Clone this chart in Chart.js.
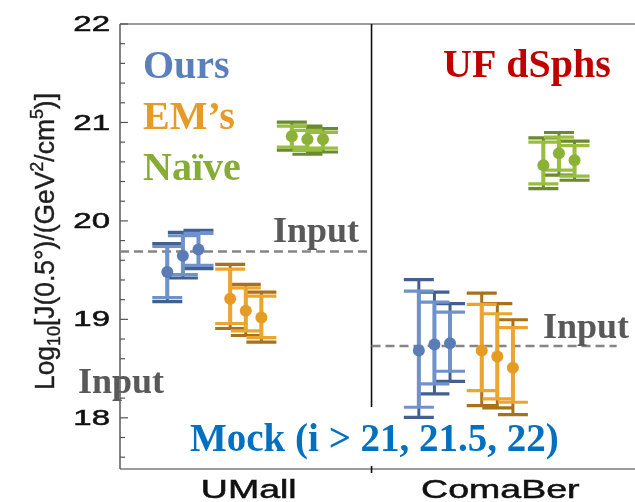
<!DOCTYPE html>
<html><head><meta charset="utf-8">
<script src="https://cdn.jsdelivr.net/npm/chart.js@4/dist/chart.umd.min.js"></script>
<style>html,body{margin:0;padding:0;background:#fff;}#wrap{width:635px;height:502px;}</style>
</head><body><div id="wrap"><canvas id="c" width="635" height="502"></canvas></div>
<script>
// ---------------- data ----------------
const categories = ['UMall', 'ComaBer'];
const mockCuts = ['i > 21', 'i > 21.5', 'i > 22'];
const inputLogJ = [19.69, 18.73];           // true (input) J-factor per galaxy
const yTickValues = [18, 19, 20, 21, 22];
const seriesNames = ['Ours', "EM\u2019s", 'Na\u00efve'];
// order of values: UMall (i>21, i>21.5, i>22), ComaBer (i>21, i>21.5, i>22)
const oursMid     = [19.48, 19.645, 19.71, 18.684, 18.745, 18.758];
const oursOuterHi = [19.77, 19.884, 19.905, 19.403, 19.277, 19.159];
const oursInnerHi = [19.74, 19.849, 19.874, 19.287, 19.175, 19.073];
const oursInnerLo = [19.22, 19.455, 19.548, 18.107, 18.345, 18.473];
const oursOuterLo = [19.18, 19.42, 19.515, 18.005, 18.243, 18.371];

const emMid     = [19.21, 19.087, 19.02, 18.684, 18.623, 18.508];
const emOuterHi = [19.558, 19.355, 19.277, 19.267, 19.159, 18.996];
const emInnerHi = [19.511, 19.32, 19.235, 19.152, 19.057, 18.915];
const emInnerLo = [18.958, 18.882, 18.814, 18.277, 18.192, 18.158];
const emOuterLo = [18.907, 18.836, 18.768, 18.124, 18.1, 18.033];

const naiveMid     = [20.86, 20.83, 20.83, 20.566, 20.688, 20.617];
const naiveOuterHi = [21.003, 20.962, 20.937, 20.843, 20.898, 20.81];
const naiveInnerHi = [20.962, 20.92, 20.90, 20.80, 20.85, 20.764];
const naiveInnerLo = [20.749, 20.718, 20.74, 20.377, 20.515, 20.454];
const naiveOuterLo = [20.718, 20.677, 20.70, 20.327, 20.464, 20.413];

// ---------------- styling / layout ----------------
const X_MAX = 1.975;
const mockOffsets = [-0.062, 0, 0.062];
const series = [
  {name: seriesNames[0], mid: oursMid, oHi: oursOuterHi, iHi: oursInnerHi, iLo: oursInnerLo, oLo: oursOuterLo,
   off: -0.25, light: '#6f92cb', dark: '#41608f', marker: '#5a7cb7', text: '#5b7fba'},
  {name: seriesNames[1], mid: emMid, oHi: emOuterHi, iHi: emInnerHi, iLo: emInnerLo, oLo: emOuterLo,
   off: 0, light: '#eca52e', dark: '#a8721b', marker: '#e69c22', text: '#e59b25'},
  {name: seriesNames[2], mid: naiveMid, oHi: naiveOuterHi, iHi: naiveInnerHi, iLo: naiveInnerLo, oLo: naiveOuterLo,
   off: 0.245, light: '#98be3f', dark: '#6a8a2b', marker: '#8bb236', text: '#86ac36'}
];
function xOf(idx, s) {
  const g = Math.floor(idx / 3), m = idx % 3;
  return g + 0.5 + s.off + mockOffsets[m];
}
function barData(s, lo, hi) {
  const out = [];
  s.mid.forEach((_, i) => {
    const x = xOf(i, s);
    out.push({x, y: lo[i]}, {x, y: hi[i]}, {x, y: null});
  });
  return out;
}

const datasets = [];
// input dashed lines
datasets.push({
  label: 'Input',
  data: [{x: 0, y: inputLogJ[0]}, {x: 1, y: inputLogJ[0]}, {x: 1, y: null},
         {x: 1, y: inputLogJ[1]}, {x: X_MAX, y: inputLogJ[1]}],
  borderColor: '#858585', borderWidth: 2.5, borderDash: [9, 5], pointRadius: 0, spanGaps: false, order: 5
});
series.forEach(s => {
  datasets.push({
    label: s.name + ' outer', data: barData(s, s.oLo, s.oHi),
    borderColor: s.dark, borderWidth: 3, spanGaps: false,
    pointStyle: 'line', pointRadius: 15, pointBorderWidth: 3.2, pointBorderColor: s.dark, order: 3
  });
  datasets.push({
    label: s.name + ' inner', data: barData(s, s.iLo, s.iHi),
    borderColor: s.light, borderWidth: 4, spanGaps: false,
    pointStyle: 'line', pointRadius: 15, pointBorderWidth: 3.2, pointBorderColor: s.light, order: 2
  });
  datasets.push({
    label: s.name, data: s.mid.map((v, i) => ({x: xOf(i, s), y: v})),
    showLine: false, pointStyle: 'circle', pointRadius: 6, pointBorderWidth: 0,
    pointBackgroundColor: s.marker, order: 1
  });
});

function stretchText(ctx, txt, x, y, sx, align) {
  ctx.save(); ctx.translate(x, y); ctx.scale(sx, 1);
  ctx.textAlign = align; ctx.fillText(txt, 0, 0);
  ctx.lineWidth = 0.5; ctx.strokeStyle = ctx.fillStyle; ctx.strokeText(txt, 0, 0);
  ctx.restore();
}

const decor = {
  id: 'decor',
  beforeDatasetsDraw(chart) {
    const {ctx, chartArea: a, scales: {x, y}} = chart;
    ctx.save();
    ctx.lineCap = 'butt';
    // frame
    ctx.strokeStyle = '#7a7a7a'; ctx.lineWidth = 1.5;
    ctx.beginPath(); ctx.moveTo(a.left, a.top); ctx.lineTo(chart.width, a.top); ctx.stroke();
    ctx.beginPath(); ctx.moveTo(a.left, a.bottom); ctx.lineTo(chart.width, a.bottom); ctx.stroke();
    ctx.strokeStyle = '#5a5a5a';
    ctx.beginPath(); ctx.moveTo(a.left, a.top); ctx.lineTo(a.left, a.bottom); ctx.stroke();
    // inward ticks
    ctx.lineWidth = 1.2; ctx.strokeStyle = '#555';
    for (let k = 0; k <= 22; k++) {
      const v = Math.round((17.6 + 0.2 * k) * 10) / 10;
      const py = y.getPixelForValue(v);
      const len = Number.isInteger(v) ? 8 : 5;
      ctx.beginPath(); ctx.moveTo(a.left, py); ctx.lineTo(a.left + len, py); ctx.stroke();
    }
    // panel separator
    const sx = x.getPixelForValue(1);
    ctx.strokeStyle = '#111'; ctx.lineWidth = 1.6;
    ctx.beginPath(); ctx.moveTo(sx, a.top); ctx.lineTo(sx, a.bottom + 4); ctx.stroke();
    ctx.restore();
  },
  afterDatasetsDraw(chart) {
    const {ctx, chartArea: a, scales: {x, y}} = chart;
    ctx.save();
    // white box behind Mock label
    ctx.fillStyle = '#fff';
    ctx.fillRect(185, 407, 215, 59);

    // y tick labels
    ctx.fillStyle = '#111';
    ctx.font = '22px "Liberation Sans", Arial, sans-serif';
    ctx.textBaseline = 'middle';
    yTickValues.forEach(v => stretchText(ctx, String(v), 110, y.getPixelForValue(v) + 1, 1.5, 'right'));
    // category labels
    ctx.font = '25px "Liberation Sans", Arial, sans-serif';
    ctx.textBaseline = 'alphabetic';
    categories.forEach((c, i) => stretchText(ctx, c, x.getPixelForValue(i + 0.5) + 3, 498, 1.5, 'center'));

    // y title (rotated)
    const F = 26;
    const segs = [
      {t: 'Log', s: 1, dy: 0}, {t: '10', s: 0.68, dy: 0.22},
      {t: '[J(0.5\u00b0)/(GeV', s: 1, dy: 0}, {t: '2', s: 0.68, dy: -0.42},
      {t: '/cm', s: 1, dy: 0}, {t: '5', s: 0.68, dy: -0.42}, {t: ')]', s: 1, dy: 0}
    ];
    let w = 0;
    segs.forEach(sg => { ctx.font = (F * sg.s) + 'px "Liberation Sans", Arial, sans-serif'; sg.w = ctx.measureText(sg.t).width; w += sg.w; });
    const L = 297, k = L / w;
    ctx.save();
    ctx.translate(54, 390); ctx.rotate(-Math.PI / 2); ctx.scale(k, 1.05);
    ctx.fillStyle = '#1e1e1e'; ctx.strokeStyle = '#1e1e1e'; ctx.lineWidth = 0.4; ctx.textAlign = 'left';
    let cx = 0;
    segs.forEach(sg => {
      ctx.font = (F * sg.s) + 'px "Liberation Sans", Arial, sans-serif';
      ctx.fillText(sg.t, cx, sg.dy * F);
      ctx.strokeText(sg.t, cx, sg.dy * F);
      cx += sg.w;
    });
    ctx.restore();

    // annotations
    const serif = '"Liberation Serif", "Times New Roman", serif';
    ctx.textAlign = 'left'; ctx.textBaseline = 'alphabetic';
    ctx.font = 'bold 40px ' + serif;
    ctx.fillStyle = series[0].text; ctx.fillText(series[0].name, 143, 78);
    ctx.fillStyle = series[1].text; ctx.fillText(series[1].name, 143, 129);
    ctx.fillStyle = series[2].text; ctx.fillText(series[2].name, 143, 180);
    ctx.fillStyle = '#c00000'; ctx.fillText('UF dSphs', 443, 77);
    ctx.font = 'bold 36px ' + serif;
    ctx.fillStyle = '#595959';
    ctx.fillText('Input', 273, 242);
    ctx.fillText('Input', 78, 393);
    ctx.fillText('Input', 543, 338);
    ctx.font = 'bold 39px ' + serif;
    ctx.fillStyle = '#0070c0';
    ctx.fillText('Mock (' + mockCuts[0] + ', ' + mockCuts[1].slice(4) + ', ' + mockCuts[2].slice(4) + ')', 190, 451);
    ctx.restore();
  }
};

new Chart(document.getElementById('c'), {
  type: 'line',
  data: {datasets},
  options: {
    responsive: false, animation: false, devicePixelRatio: 1, events: [],
    layout: {padding: {left: 120, top: 24, right: 1, bottom: 33}},
    plugins: {legend: {display: false}, tooltip: {enabled: false}},
    scales: {
      x: {type: 'linear', min: 0, max: X_MAX, display: false},
      y: {type: 'linear', min: 17.48, max: 22, display: false}
    }
  },
  plugins: [decor]
});
</script></body></html>
